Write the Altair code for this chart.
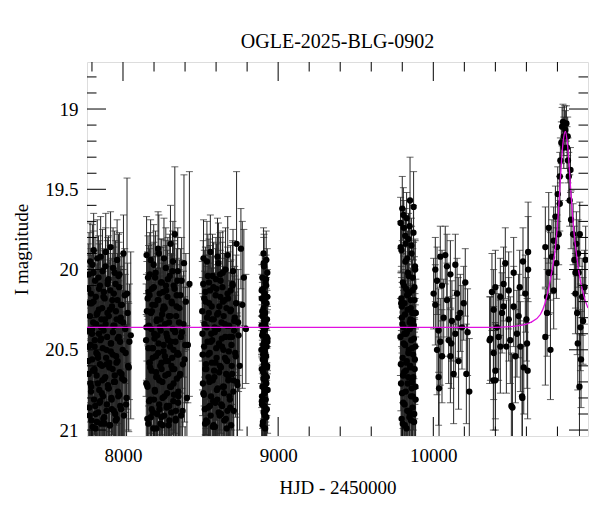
import altair as alt
import pandas as pd

# ---------------- data ----------------
t1 = [7776, 7779, 7782, 7785, 7788, 7791, 7795, 7798, 7801, 7804,
      7808, 7811, 7815, 7818, 7821, 7825, 7828, 7832, 7835, 7838,
      7842, 7845, 7849, 7852, 7856, 7859, 7863, 7866, 7870, 7873,
      7877, 7880, 7884, 7887, 7891, 7894, 7898, 7901, 7905, 7909,
      7912, 7916, 7920, 7923, 7927, 7931, 7934, 7938, 7942, 7946,
      7950, 7954, 7958, 7962, 7966, 7970, 7975, 7979, 7984, 7988,
      7993, 7998, 8003, 8008, 8014, 8020, 8026, 8033, 8041, 8050,
      7777, 7781, 7783, 7787, 7790, 7793, 7797, 7800, 7803, 7806,
      7810, 7813, 7817, 7820, 7823, 7827, 7830, 7834, 7837, 7840,
      7844, 7847, 7851, 7854, 7858, 7861, 7865, 7868, 7872, 7875,
      7879, 7882, 7886, 7889, 7893, 7896, 7900, 7903, 7907, 7911,
      7914, 7918, 7922, 7925, 7929, 7933, 7936, 7940, 7944, 7948,
      7952, 7956, 7960, 7964, 7968, 7973, 7977, 7982, 7986, 7991]
m1 = [20.12, 20.65, 20.38, 20.91, 19.95, 20.47, 20.73, 20.21, 20.56, 20.98,
      20.33, 19.88, 20.62, 20.44, 20.85, 20.17, 20.52, 20.95, 20.27, 20.71,
      20.05, 20.40, 20.83, 20.59, 19.92, 20.36, 20.77, 20.24, 20.49, 20.93,
      20.14, 20.68, 20.31, 19.98, 20.55, 20.88, 20.42, 20.09, 20.74, 20.29,
      20.61, 20.97, 19.86, 20.46, 20.81, 20.19, 20.53, 20.35, 20.70, 20.02,
      20.90, 20.26, 20.58, 19.94, 20.43, 20.79, 20.11, 20.64, 20.32, 20.87,
      20.22, 20.50, 19.90, 20.69, 20.37, 20.84, 20.15, 20.60, 20.45, 20.41,
      20.57, 20.03, 20.86, 20.29, 20.71, 20.15, 20.94, 20.40, 19.97, 20.63,
      20.20, 20.81, 20.48, 20.07, 20.99, 20.34, 20.66, 19.93, 20.53, 20.89,
      20.25, 20.75, 20.10, 20.44, 20.96, 20.31, 20.60, 20.01, 20.79, 20.38,
      20.92, 20.18, 20.67, 19.89, 20.50, 20.84, 20.27, 20.72, 20.06, 20.58,
      20.97, 20.13, 20.46, 20.80, 20.23, 20.62, 19.99, 20.88, 20.35, 20.70,
      20.09, 20.54, 20.93, 20.19, 20.76, 20.42, 20.03, 20.85, 20.30, 20.65]
e1 = [0.28, 0.41, 0.33, 0.47, 0.24, 0.36, 0.44, 0.30, 0.38, 0.49,
      0.32, 0.23, 0.40, 0.35, 0.46, 0.29, 0.37, 0.48, 0.31, 0.43,
      0.26, 0.34, 0.45, 0.39, 0.25, 0.33, 0.44, 0.30, 0.36, 0.47,
      0.27, 0.42, 0.32, 0.24, 0.38, 0.46, 0.35, 0.27, 0.43, 0.31,
      0.40, 0.49, 0.22, 0.36, 0.45, 0.29, 0.37, 0.33, 0.42, 0.26,
      0.47, 0.31, 0.39, 0.25, 0.35, 0.44, 0.28, 0.41, 0.32, 0.46,
      0.30, 0.37, 0.24, 0.42, 0.34, 0.45, 0.72, 0.40, 0.36, 0.52,
      0.38, 0.26, 0.46, 0.31, 0.43, 0.28, 0.49, 0.34, 0.25, 0.41,
      0.30, 0.45, 0.36, 0.27, 0.50, 0.33, 0.42, 0.24, 0.37, 0.47,
      0.31, 0.44, 0.28, 0.35, 0.49, 0.32, 0.40, 0.26, 0.45, 0.34,
      0.48, 0.29, 0.42, 0.24, 0.36, 0.46, 0.31, 0.43, 0.27, 0.39,
      0.50, 0.28, 0.35, 0.45, 0.30, 0.41, 0.25, 0.47, 0.33, 0.43,
      0.27, 0.37, 0.49, 0.29, 0.44, 0.35, 0.26, 0.46, 0.32, 0.42]
t1c = [7778, 7786, 7794, 7802, 7809, 7816, 7824, 7831, 7839, 7846,
       7853, 7860, 7867, 7874, 7881, 7888, 7895, 7902, 7908, 7915,
       7921, 7928, 7935, 7941, 7947, 7953, 7959, 7965, 7971, 7976,
       7981, 7987, 7995, 8001, 8006, 8011, 8017, 8023, 8030, 8037]
m1c = [20.48, 20.21, 20.76, 20.37, 20.02, 20.63, 20.90, 20.28, 20.55, 20.12,
       20.82, 20.43, 20.69, 20.17, 20.96, 20.34, 20.59, 20.07, 20.74, 20.25,
       20.51, 20.87, 20.39, 20.15, 20.66, 20.94, 20.31, 20.57, 20.04, 20.78,
       20.45, 20.22, 20.68, 20.33, 20.91, 20.16, 20.52, 20.80, 20.27, 20.61]
e1c = [0.36, 0.30, 0.44, 0.34, 0.26, 0.40, 0.48, 0.31, 0.38, 0.28,
       0.45, 0.35, 0.42, 0.29, 0.50, 0.33, 0.39, 0.27, 0.44, 0.31,
       0.37, 0.47, 0.34, 0.29, 0.41, 0.49, 0.32, 0.39, 0.26, 0.45,
       0.35, 0.30, 0.42, 0.33, 0.48, 0.29, 0.37, 0.46, 0.31, 0.40]

t2 = [8149, 8152, 8156, 8159, 8163, 8166, 8170, 8173, 8177, 8180,
      8184, 8187, 8191, 8194, 8198, 8201, 8205, 8208, 8212, 8215,
      8219, 8222, 8226, 8229, 8233, 8236, 8240, 8243, 8247, 8250,
      8254, 8257, 8261, 8264, 8268, 8271, 8275, 8278, 8282, 8285,
      8289, 8292, 8296, 8299, 8303, 8306, 8310, 8313, 8317, 8320,
      8324, 8327, 8331, 8334, 8338, 8341, 8345, 8349, 8353, 8357,
      8361, 8365, 8370, 8375, 8380, 8386, 8393, 8401, 8412, 8428,
      8150, 8154, 8157, 8161, 8164, 8168, 8171, 8175, 8178, 8182,
      8185, 8189, 8192, 8196, 8199, 8203, 8206, 8210, 8213, 8217,
      8220, 8224, 8227, 8231, 8234, 8238, 8241, 8245, 8248, 8252,
      8255, 8259, 8262, 8266, 8269, 8273, 8276, 8280, 8283, 8287,
      8290, 8294, 8297, 8301, 8304, 8308, 8311, 8315, 8318, 8322,
      8325, 8329, 8332, 8336, 8339, 8343, 8347, 8351, 8355, 8359]
m2 = [20.44, 19.91, 20.72, 20.18, 20.96, 20.35, 20.58, 20.03, 20.81, 20.27,
      20.63, 20.12, 20.49, 20.89, 19.97, 20.40, 20.75, 20.22, 20.54, 20.99,
      20.31, 20.67, 19.87, 20.46, 20.84, 20.15, 20.60, 20.38, 20.92, 20.08,
      20.70, 20.25, 20.51, 19.93, 20.79, 20.34, 20.57, 20.13, 20.86, 20.42,
      20.06, 20.65, 20.29, 20.94, 20.48, 19.84, 20.73, 20.20, 20.55, 20.37,
      20.82, 20.10, 20.62, 19.78, 20.45, 20.88, 20.23, 20.53, 20.01, 20.76,
      20.33, 20.66, 20.16, 20.91, 20.39, 20.59, 19.96, 20.47, 20.80, 20.09,
      20.71, 20.26, 20.93, 20.05, 20.49, 20.82, 20.16, 20.61, 19.94, 20.37,
      20.87, 20.22, 20.55, 20.99, 20.11, 20.43, 20.76, 20.02, 20.64, 20.32,
      20.90, 20.19, 20.52, 19.90, 20.69, 20.36, 20.96, 20.08, 20.58, 20.28,
      20.80, 20.14, 20.47, 20.91, 20.24, 20.66, 19.99, 20.40, 20.85, 20.17,
      20.57, 20.97, 20.33, 20.04, 20.73, 20.45, 20.89, 20.21, 20.62, 19.95,
      20.50, 20.78, 20.12, 20.39, 20.94, 20.29, 20.68, 20.07, 20.83, 20.53]
e2 = [0.35, 0.24, 0.43, 0.29, 0.48, 0.33, 0.39, 0.26, 0.45, 0.31,
      0.41, 0.28, 0.36, 0.47, 0.25, 0.34, 0.44, 0.30, 0.38, 0.50,
      0.32, 0.42, 0.23, 0.36, 0.46, 0.29, 0.40, 0.34, 0.48, 0.27,
      0.43, 0.31, 0.37, 0.25, 0.45, 0.33, 0.39, 0.28, 0.47, 0.35,
      0.26, 0.41, 0.32, 0.49, 0.36, 0.24, 0.44, 0.30, 0.38, 0.34,
      0.46, 0.28, 0.40, 0.42, 0.35, 0.47, 0.30, 0.37, 0.27, 0.44,
      0.33, 0.41, 0.29, 0.48, 0.35, 0.39, 0.55, 0.36, 0.45, 0.70,
      0.43, 0.31, 0.49, 0.26, 0.36, 0.46, 0.29, 0.41, 0.25, 0.34,
      0.47, 0.30, 0.38, 0.50, 0.28, 0.35, 0.44, 0.26, 0.42, 0.33,
      0.48, 0.29, 0.37, 0.24, 0.43, 0.34, 0.49, 0.27, 0.39, 0.32,
      0.45, 0.28, 0.36, 0.48, 0.31, 0.42, 0.25, 0.35, 0.46, 0.29,
      0.39, 0.50, 0.33, 0.26, 0.44, 0.36, 0.47, 0.30, 0.41, 0.25,
      0.37, 0.45, 0.28, 0.34, 0.49, 0.32, 0.43, 0.27, 0.46, 0.38]
t2c = [8151, 8158, 8165, 8172, 8179, 8186, 8193, 8200, 8207, 8214,
       8221, 8228, 8235, 8242, 8249, 8256, 8263, 8270, 8277, 8284,
       8291, 8298, 8305, 8312, 8319, 8326, 8333, 8340, 8346, 8352,
       8358, 8363, 8368, 8373, 8378, 8384, 8390, 8397, 8405, 8418]
m2c = [20.36, 20.73, 20.14, 20.58, 20.92, 20.26, 20.49, 20.81, 20.05, 20.67,
       20.41, 20.19, 20.87, 20.31, 20.62, 20.97, 20.23, 20.54, 20.10, 20.77,
       20.44, 20.85, 20.29, 20.60, 20.01, 20.71, 20.38, 20.93, 20.16, 20.52,
       20.79, 20.24, 20.65, 20.42, 20.07, 20.88, 20.34, 20.56, 20.20, 20.47]
e2c = [0.33, 0.44, 0.29, 0.39, 0.48, 0.31, 0.36, 0.45, 0.26, 0.42,
       0.35, 0.30, 0.47, 0.32, 0.41, 0.50, 0.31, 0.38, 0.28, 0.44,
       0.35, 0.46, 0.31, 0.40, 0.25, 0.43, 0.34, 0.49, 0.29, 0.37,
       0.45, 0.30, 0.41, 0.35, 0.27, 0.47, 0.33, 0.39, 0.30, 0.36]

t3 = [8511, 8515, 8519, 8523, 8527, 8531, 8535, 8539, 8543, 8547,
      8551, 8555, 8559, 8563, 8567, 8571, 8575, 8579, 8583, 8587,
      8591, 8595, 8599, 8603, 8607, 8611, 8615, 8619, 8623, 8627,
      8631, 8635, 8639, 8643, 8647, 8651, 8655, 8659, 8663, 8667,
      8671, 8675, 8679, 8684, 8689, 8694, 8699, 8704, 8709, 8714,
      8720, 8726, 8732, 8738, 8745, 8752, 8760, 8769, 8779, 8792,
      8513, 8517, 8521, 8525, 8529, 8533, 8537, 8541, 8545, 8549,
      8553, 8557, 8561, 8565, 8569, 8573, 8577, 8581, 8585, 8589,
      8593, 8597, 8601, 8605, 8609, 8613, 8617, 8621, 8625, 8629,
      8633, 8637, 8641, 8645, 8649, 8653, 8657, 8661, 8665, 8669,
      8673, 8677, 8682, 8687, 8692, 8697, 8702, 8707, 8712, 8717]
m3 = [20.26, 20.71, 19.93, 20.48, 20.87, 20.14, 20.59, 20.36, 20.95, 20.04,
      20.67, 20.21, 20.52, 19.89, 20.79, 20.31, 20.44, 20.98, 20.11, 20.63,
      20.39, 20.83, 20.06, 20.55, 20.28, 20.74, 19.96, 20.46, 20.91, 20.17,
      20.61, 20.33, 20.85, 20.02, 20.50, 20.77, 20.19, 20.42, 20.93, 20.24,
      20.57, 19.91, 20.69, 20.35, 20.81, 20.13, 20.47, 20.65, 20.01, 20.88,
      20.30, 20.54, 19.84, 20.72, 20.41, 20.60, 19.87, 20.22, 20.05, 20.37,
      20.53, 20.09, 20.78, 20.34, 20.96, 20.20, 20.62, 19.95, 20.45, 20.86,
      20.27, 20.70, 20.13, 20.91, 20.40, 20.58, 20.04, 20.82, 20.31, 20.67,
      20.98, 20.16, 20.49, 20.75, 19.92, 20.37, 20.89, 20.23, 20.60, 20.07,
      20.84, 20.43, 20.11, 20.73, 20.29, 20.94, 20.55, 20.00, 20.65, 20.35,
      20.88, 20.18, 20.51, 20.79, 20.26, 20.97, 20.42, 20.10, 20.69, 20.32]
e3 = [0.31, 0.44, 0.24, 0.37, 0.47, 0.28, 0.40, 0.34, 0.49, 0.26,
      0.42, 0.30, 0.38, 0.23, 0.45, 0.32, 0.36, 0.50, 0.28, 0.41,
      0.34, 0.46, 0.26, 0.39, 0.31, 0.44, 0.25, 0.36, 0.48, 0.29,
      0.41, 0.33, 0.46, 0.26, 0.38, 0.44, 0.29, 0.35, 0.48, 0.31,
      0.39, 0.24, 0.43, 0.33, 0.45, 0.28, 0.37, 0.42, 0.26, 0.47,
      0.32, 0.38, 0.45, 0.43, 0.35, 0.40, 0.25, 0.52, 0.30, 0.34,
      0.38, 0.27, 0.45, 0.33, 0.49, 0.29, 0.41, 0.25, 0.36, 0.47,
      0.31, 0.43, 0.28, 0.48, 0.35, 0.39, 0.26, 0.46, 0.32, 0.42,
      0.50, 0.29, 0.37, 0.44, 0.24, 0.34, 0.48, 0.30, 0.40, 0.27,
      0.46, 0.35, 0.28, 0.44, 0.31, 0.49, 0.38, 0.26, 0.42, 0.33,
      0.47, 0.29, 0.37, 0.45, 0.31, 0.50, 0.35, 0.27, 0.43, 0.32]
t3c = [8512, 8518, 8524, 8530, 8536, 8542, 8548, 8554, 8560, 8566,
       8572, 8578, 8584, 8590, 8596, 8602, 8608, 8614, 8620, 8626,
       8632, 8638, 8644, 8650, 8656, 8662, 8668, 8674, 8680, 8686,
       8691, 8696, 8701, 8706, 8711, 8716, 8723, 8729, 8735, 8742]
m3c = [20.40, 20.77, 20.18, 20.62, 20.94, 20.30, 20.53, 20.08, 20.85, 20.45,
       20.23, 20.69, 20.97, 20.36, 20.58, 20.12, 20.81, 20.27, 20.64, 20.03,
       20.90, 20.48, 20.20, 20.73, 20.34, 20.56, 20.99, 20.15, 20.67, 20.42,
       20.86, 20.25, 20.60, 20.09, 20.76, 20.38, 20.52, 20.21, 20.70, 20.33]
e3c = [0.35, 0.45, 0.30, 0.41, 0.49, 0.32, 0.38, 0.27, 0.47, 0.36,
       0.31, 0.43, 0.50, 0.34, 0.39, 0.28, 0.46, 0.32, 0.42, 0.26,
       0.48, 0.36, 0.30, 0.44, 0.33, 0.39, 0.50, 0.29, 0.42, 0.35,
       0.47, 0.31, 0.40, 0.27, 0.45, 0.34, 0.38, 0.30, 0.43, 0.33]

t4 = [8893, 8894, 8895, 8896, 8897, 8898, 8899, 8900, 8901, 8902,
      8903, 8904, 8905, 8906, 8907, 8908, 8909, 8910, 8911, 8912,
      8913, 8914, 8915, 8916, 8917, 8918, 8919, 8920, 8921, 8922,
      8923, 8924, 8925, 8926, 8927, 8928, 8929, 8930, 8931, 8932,
      8892, 8894, 8896, 8898, 8900, 8902, 8904, 8906, 8908, 8910,
      8912, 8914, 8916, 8918, 8920, 8922, 8924, 8926, 8928, 8930,
      8895, 8899, 8903, 8907, 8911, 8915, 8919, 8923, 8927, 8931]
m4 = [20.35, 20.62, 20.18, 20.84, 20.41, 20.05, 20.73, 20.29, 20.56, 20.95,
      20.12, 20.47, 20.68, 20.24, 20.89, 20.38, 19.98, 20.59, 20.32, 20.77,
      20.15, 20.51, 20.91, 20.27, 20.44, 20.66, 20.08, 20.81, 20.36, 20.54,
      19.94, 20.71, 20.21, 20.48, 20.87, 20.31, 20.60, 20.02, 20.43, 20.75,
      20.50, 20.13, 20.79, 20.26, 20.97, 20.39, 20.64, 19.90, 20.46, 20.85,
      20.20, 20.57, 20.99, 20.33, 20.70, 20.06, 20.92, 20.42, 20.61, 20.17,
      20.82, 20.29, 20.53, 19.96, 20.74, 20.37, 20.88, 20.10, 20.67, 20.45]
e4 = [0.18, 0.24, 0.15, 0.29, 0.19, 0.14, 0.26, 0.17, 0.22, 0.31,
      0.15, 0.20, 0.25, 0.17, 0.30, 0.19, 0.20, 0.23, 0.18, 0.27,
      0.16, 0.21, 0.30, 0.17, 0.20, 0.25, 0.15, 0.28, 0.19, 0.22,
      0.18, 0.26, 0.16, 0.21, 0.29, 0.18, 0.24, 0.15, 0.20, 0.27,
      0.21, 0.16, 0.27, 0.18, 0.32, 0.20, 0.24, 0.16, 0.20, 0.29,
      0.17, 0.22, 0.33, 0.19, 0.25, 0.15, 0.30, 0.20, 0.23, 0.17,
      0.28, 0.18, 0.21, 0.16, 0.26, 0.19, 0.29, 0.16, 0.24, 0.20]

t5 = [9788, 9790, 9792, 9794, 9796, 9798, 9800, 9802, 9804, 9806,
      9808, 9810, 9812, 9814, 9816, 9818, 9820, 9822, 9824, 9826,
      9828, 9830, 9832, 9834, 9836, 9838, 9840, 9842, 9844, 9846,
      9848, 9850, 9852, 9854, 9856, 9858, 9860, 9862, 9864, 9866,
      9868, 9870, 9872, 9874, 9876, 9878, 9880, 9882, 9884, 9886,
      9789, 9797, 9805, 9813, 9821, 9829, 9837, 9845, 9853, 9861,
      9791, 9793, 9795, 9799, 9801, 9803, 9807, 9809, 9811, 9815,
      9817, 9819, 9823, 9825, 9827, 9831, 9833, 9835, 9839, 9841,
      9843, 9847, 9849, 9851, 9855, 9857, 9859, 9863, 9865, 9867,
      9869, 9871, 9873, 9875, 9877, 9879, 9881, 9883, 9885, 9887]
m5 = [20.42, 19.86, 20.71, 20.18, 20.93, 20.30, 19.62, 20.55, 20.08, 20.83,
      20.36, 19.74, 20.64, 20.21, 20.97, 20.47, 19.95, 20.76, 20.12, 20.58,
      19.68, 20.39, 20.88, 20.25, 20.02, 20.67, 19.81, 20.50, 20.15, 20.92,
      20.33, 19.57, 20.61, 20.19, 20.79, 20.44, 19.90, 20.70, 20.27, 20.86,
      20.05, 20.53, 19.77, 20.35, 20.95, 20.11, 20.62, 19.98, 20.48, 20.81,
      19.71, 20.23, 20.66, 20.40, 19.84, 20.57, 20.14, 20.89, 20.31, 20.74,
      20.59, 20.21, 19.88, 20.77, 20.34, 20.96, 19.66, 20.46, 20.10, 20.84,
      20.28, 19.79, 20.63, 20.40, 20.99, 20.16, 19.93, 20.71, 20.52, 20.04,
      20.88, 19.73, 20.37, 20.60, 20.24, 20.94, 19.85, 20.49, 20.13, 20.79,
      20.32, 20.67, 19.61, 20.43, 20.90, 20.19, 20.56, 20.00, 20.73, 20.27]
e5 = [0.24, 0.16, 0.35, 0.20, 0.45, 0.22, 0.20, 0.28, 0.18, 0.40,
      0.23, 0.17, 0.32, 0.19, 0.48, 0.26, 0.17, 0.37, 0.19, 0.30,
      0.16, 0.24, 0.42, 0.21, 0.18, 0.33, 0.16, 0.27, 0.19, 0.46,
      0.22, 0.27, 0.31, 0.20, 0.38, 0.25, 0.17, 0.35, 0.21, 0.41,
      0.18, 0.28, 0.17, 0.23, 0.47, 0.19, 0.31, 0.17, 0.26, 0.39,
      0.16, 0.21, 0.33, 0.24, 0.16, 0.29, 0.19, 0.43, 0.22, 0.36,
      0.29, 0.20, 0.17, 0.37, 0.23, 0.47, 0.17, 0.26, 0.18, 0.41,
      0.21, 0.17, 0.31, 0.25, 0.49, 0.19, 0.17, 0.35, 0.27, 0.18,
      0.43, 0.16, 0.23, 0.30, 0.20, 0.46, 0.17, 0.26, 0.19, 0.38,
      0.22, 0.33, 0.22, 0.25, 0.44, 0.20, 0.28, 0.18, 0.36, 0.21]

t6 = [10002, 10013, 10013, 10024, 10024, 10034, 10034, 10037, 10045, 10045,
      10056, 10056, 10067, 10077, 10088, 10088, 10099, 10110, 10110, 10116,
      10120, 10131, 10142, 10142, 10153, 10161, 10163, 10174, 10185, 10196,
      10206, 10213, 10221, 10232]
m6 = [20.15, 20.22, 20.00, 20.07, 20.50, 20.38, 20.67, 20.74, 19.92, 20.45,
      20.10, 20.54, 20.30, 19.91, 19.98, 20.19, 20.44, 20.03, 20.54, 20.46,
      20.32, 20.65, 19.97, 20.40, 20.15, 20.30, 20.57, 20.27, 20.36, 20.21,
      20.08, 20.65, 20.39, 20.76]
e6 = [0.22, 0.25, 0.20, 0.21, 0.28, 0.26, 0.30, 0.32, 0.19, 0.27,
      0.22, 0.29, 0.24, 0.18, 0.20, 0.23, 0.27, 0.21, 0.29, 0.28,
      0.25, 0.31, 0.19, 0.27, 0.22, 0.25, 0.30, 0.24, 0.26, 0.23,
      0.21, 0.31, 0.27, 0.33]

t7 = [10363, 10368, 10378, 10387, 10389, 10389, 10400, 10400, 10400, 10410,
      10421, 10432, 10432, 10443, 10453, 10453, 10464, 10471, 10486, 10486,
      10496, 10503, 10510, 10518, 10518, 10529, 10539, 10550, 10557, 10561,
      10572, 10574, 10578, 10583, 10593, 10600, 10604, 10608, 10611, 10611]
m7 = [20.44, 20.43, 20.14, 20.69, 20.25, 20.52, 20.11, 20.63, 20.69, 20.36,
      20.42, 20.17, 20.48, 20.27, 20.09, 20.23, 19.96, 20.48, 20.31, 20.13,
      20.44, 20.85, 20.86, 20.23, 20.02, 20.54, 20.40, 20.29, 20.11, 20.48,
      20.79, 20.80, 19.95, 20.61, 20.15, 20.31, 20.46, 20.63, 19.89, 20.00]
e7 = [0.27, 0.26, 0.24, 0.31, 0.25, 0.29, 0.23, 0.30, 0.31, 0.26,
      0.27, 0.24, 0.29, 0.25, 0.23, 0.25, 0.22, 0.29, 0.26, 0.24,
      0.27, 0.33, 0.33, 0.25, 0.22, 0.29, 0.27, 0.26, 0.23, 0.28,
      0.32, 0.32, 0.21, 0.29, 0.24, 0.26, 0.28, 0.30, 0.31, 0.33]

t8 = [10722, 10722, 10733, 10733, 10744, 10744, 10755, 10755, 10765, 10776,
      10776, 10787, 10793, 10797, 10802, 10808, 10815, 10815, 10819, 10825,
      10830, 10836, 10841, 10841, 10845, 10851, 10858, 10862, 10866, 10868,
      10873, 10879, 10884, 10888, 10901, 10909, 10916, 10916, 10922, 10927,
      10931, 10933, 10937, 10942, 10944, 10948, 10952, 10959, 10965, 10974,
      10982]
m8 = [19.86, 20.42, 20.27, 20.17, 19.74, 20.02, 20.50, 20.02, 19.92, 19.82,
      20.13, 19.67, 19.96, 19.86, 19.53, 19.78, 19.42, 19.59, 19.32, 19.21,
      19.11, 19.08, 19.17, 19.24, 19.09, 19.13, 19.09, 19.24, 19.17, 19.32,
      19.42, 19.57, 19.38, 19.69, 19.78, 19.94, 20.15, 20.02, 19.84, 20.27,
      20.46, 19.90, 20.02, 20.73, 19.78, 20.36, 20.56, 20.17, 20.32, 20.11,
      19.94]
e8 = [0.25, 0.30, 0.27, 0.24, 0.22, 0.26, 0.31, 0.25, 0.23, 0.21,
      0.24, 0.19, 0.22, 0.20, 0.17, 0.19, 0.15, 0.17, 0.14, 0.13,
      0.12, 0.11, 0.12, 0.13, 0.11, 0.12, 0.11, 0.13, 0.12, 0.14,
      0.15, 0.16, 0.14, 0.18, 0.19, 0.21, 0.25, 0.22, 0.20, 0.26,
      0.29, 0.21, 0.23, 0.33, 0.20, 0.27, 0.30, 0.24, 0.27, 0.23,
      0.21]

# model curve (magenta)
model_t = [7768, 10400, 10550, 10626, 10690, 10720, 10755, 10787, 10808, 10820,
           10835, 10851, 10865, 10884, 10905, 10927, 10950, 10975, 10997]
model_m = [20.36, 20.36, 20.35, 20.33, 20.28, 20.21, 20.06, 19.86, 19.62, 19.42,
           19.22, 19.14, 19.22, 19.48, 19.75, 19.94, 20.08, 20.18, 20.24]

# axis ticks
x_labels = [8000, 9000, 10000]
x_minor = [7800, 8200, 8400, 8600, 8800, 9200, 9400, 9600, 9800,
           10200, 10400, 10600, 10800]
y_labels = [19, 19.5, 20, 20.5, 21]
y_minor = [18.8, 18.9, 19.1, 19.2, 19.3, 19.4, 19.6, 19.7, 19.8, 19.9,
           20.1, 20.2, 20.3, 20.4, 20.6, 20.7, 20.8, 20.9]

X_DOMAIN = [7768, 10997]
Y_DOMAIN = [18.707, 21.037]

# ---------------- chart ----------------
W, H = 501, 374
FONT = "Liberation Serif"
MAJ, MIN = 19, 9.5
XT, YT = "HJD - 2450000", "I magnitude"

ts = t1 + t1c + t2 + t2c + t3 + t3c + t4 + t5 + t6 + t7 + t8
ms = m1 + m1c + m2 + m2c + m3 + m3c + m4 + m5 + m6 + m7 + m8
es = e1 + e1c + e2 + e2c + e3 + e3c + e4 + e5 + e6 + e7 + e8
df = pd.DataFrame({"t": ts, "m": ms, "e": es})
model_df = pd.DataFrame({"t": model_t, "m": model_m})

xs = alt.Scale(domain=X_DOMAIN, nice=False, zero=False)
ys = alt.Scale(domain=Y_DOMAIN, nice=False, zero=False, reverse=True)

x_axis = alt.Axis(values=x_labels, format="d", ticks=False, domain=False, grid=False,
                  labelFont=FONT, labelFontSize=19, labelColor="black", labelPadding=10,
                  titleFont=FONT, titleFontSize=19, titleFontWeight="normal",
                  titleColor="black", titlePadding=13)
y_axis = alt.Axis(values=y_labels, format="~g", ticks=False, domain=False, grid=False,
                  labelFont=FONT, labelFontSize=19, labelColor="black", labelPadding=9,
                  titleFont=FONT, titleFontSize=19, titleFontWeight="normal",
                  titleColor="black", titlePadding=13)


def X(field):
    return alt.X(field, scale=xs, axis=x_axis, title=XT)


def Y(field):
    return alt.Y(field, scale=ys, axis=y_axis, title=YT)


base = alt.Chart(df).transform_calculate(lo="datum.m - datum.e", hi="datum.m + datum.e")

EB = "#262626"
bars = base.mark_rule(color=EB, strokeWidth=1, clip=True).encode(
    x=X("t:Q"), y=Y("lo:Q"), y2="hi:Q")
cap_lo = base.mark_tick(orient="horizontal", size=7, thickness=1, color=EB, clip=True).encode(
    x=X("t:Q"), y=Y("lo:Q"))
cap_hi = base.mark_tick(orient="horizontal", size=7, thickness=1, color=EB, clip=True).encode(
    x=X("t:Q"), y=Y("hi:Q"))
points = base.mark_circle(size=40, color="black", opacity=1, clip=True).encode(
    x=X("t:Q"), y=Y("m:Q"))
model = alt.Chart(model_df).mark_line(color="#e010e0", strokeWidth=1.3,
                                      interpolate="monotone", clip=True).encode(
    x=X("t:Q"), y=Y("m:Q"))


def xticks(vals, length):
    d = pd.DataFrame({"v": vals})
    bottom = alt.Chart(d).mark_rule(color="black", strokeWidth=1).encode(
        x=X("v:Q"), y=alt.value(H), y2=alt.value(H - length))
    top = alt.Chart(d).mark_rule(color="black", strokeWidth=1).encode(
        x=X("v:Q"), y=alt.value(0), y2=alt.value(length))
    return [bottom, top]


def yticks(vals, length):
    d = pd.DataFrame({"v": vals})
    left = alt.Chart(d).mark_rule(color="black", strokeWidth=1).encode(
        y=Y("v:Q"), x=alt.value(0), x2=alt.value(length))
    right = alt.Chart(d).mark_rule(color="black", strokeWidth=1).encode(
        y=Y("v:Q"), x=alt.value(W), x2=alt.value(W - length))
    return [left, right]


ticks = xticks(x_labels, MAJ) + xticks(x_minor, MIN) + yticks(y_labels, MAJ) + yticks(y_minor, MIN)

chart = alt.layer(bars, cap_lo, cap_hi, points, model, *ticks).properties(
    width=W, height=H,
    title=alt.TitleParams("OGLE-2025-BLG-0902", font=FONT, fontSize=20, fontWeight="normal",
                          color="black", anchor="middle", offset=-6, baseline="alphabetic"),
    autosize=alt.AutoSizeParams(type="none"),
    padding={"left": 79, "top": 54, "right": 4, "bottom": 62},
).configure_view(stroke="black", strokeWidth=1.2).configure(background="white")

chart.save("out.html", embed_options={"renderer": "svg", "actions": False})
